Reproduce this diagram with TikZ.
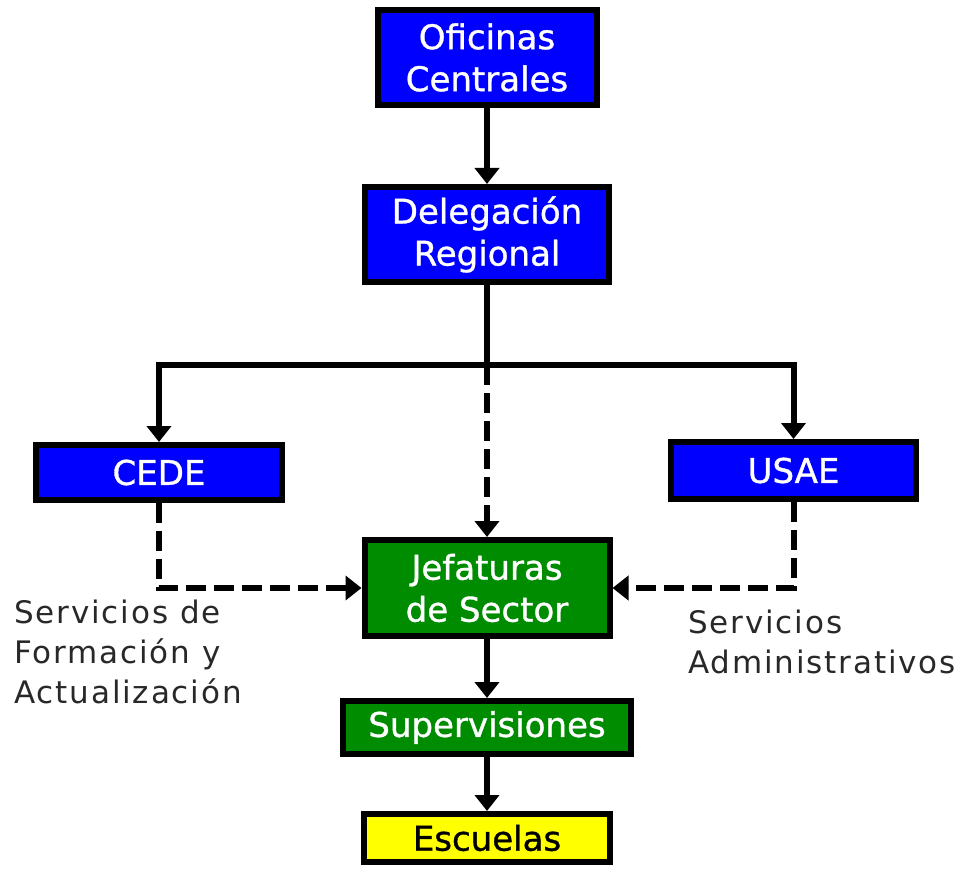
\documentclass[tikz,border=0pt]{standalone}
\usepackage{fontspec}
\setmainfont{DejaVu Sans}
\newfontfamily\boxfont[FakeBold=1]{DejaVu Sans}
\newfontfamily\labelfont[LetterSpace=6]{DejaVu Sans}
\usetikzlibrary{arrows.meta}
\definecolor{boxblue}{RGB}{0,0,255}
\definecolor{boxgreen}{RGB}{0,140,0}
\definecolor{boxyellow}{RGB}{255,255,0}
\definecolor{labelgray}{RGB}{40,40,40}
\tikzset{
  orgbox/.style={draw=black, line width=6pt, inner sep=0pt, align=center,
    font=\boxfont\fontsize{34}{42}\selectfont},
  bluebox/.style={orgbox, fill=boxblue, text=white},
  greenbox/.style={orgbox, fill=boxgreen, text=white},
  yellowbox/.style={orgbox, fill=boxyellow, text=black},
  link/.style={line width=6pt, draw=black},
  linkarrow/.style={link, -{Triangle[length=16pt,width=24pt]}},
  dasharrow/.style={linkarrow, dash pattern=on 20pt off 8pt},
  sidelabel/.style={inner sep=0pt, align=left, text=labelgray,
    font=\labelfont\fontsize{31}{40}\selectfont}
}
\begin{document}
\begin{tikzpicture}[x=1pt,y=-1pt]
  \useasboundingbox (0,0) rectangle (968,869);

  % organisation boxes, all central ones on one column
  \node[bluebox, minimum width=219pt, minimum height=95pt] (ofc) at (487,57.5) {Oficinas\\Centrales};
  \node[bluebox, minimum width=244pt, minimum height=95pt] (del) at (487,234.5) {Delegación\\Regional};
  \node[bluebox, minimum width=246pt, minimum height=55pt] (cede) at (159,472.5) {CEDE};
  \node[bluebox, minimum width=245pt, minimum height=57pt] (usae) at (793.5,470.5) {USAE};
  \node[greenbox, minimum width=245pt, minimum height=96pt] (jef) at (487,588) {Jefaturas\\de Sector};
  \node[greenbox, minimum width=288pt, minimum height=53pt] (sup) at (487,727.5) {Supervisiones};
  \node[yellowbox, minimum width=246pt, minimum height=48pt] (esc) at (487,838) {Escuelas};

  % branching point below the regional delegation
  \coordinate (split) at (487,365);

  % solid hierarchy links
  \draw[linkarrow] (ofc.south) -- (del.north);
  \draw[link] (del.south) -- (split);
  \draw[linkarrow] (split) -| (cede.north);
  \draw[linkarrow] (split) -| (usae.north);
  \draw[linkarrow] (jef.south) -- (sup.north);
  \draw[linkarrow] (sup.south) -- (esc.north);

  % dashed service links
  \draw[dasharrow] (split) -- (jef.north);
  \draw[dasharrow] (cede.south) |- (jef.west);
  \draw[dasharrow] (usae.south) |- (jef.east);

  % service labels
  \node[sidelabel, anchor=north west] (lblform) at (14,600) {Servicios de\\Formación y\\Actualización};
  \node[sidelabel, anchor=north west] (lbladm) at (688,610) {Servicios\\Administrativos};
\end{tikzpicture}
\end{document}
